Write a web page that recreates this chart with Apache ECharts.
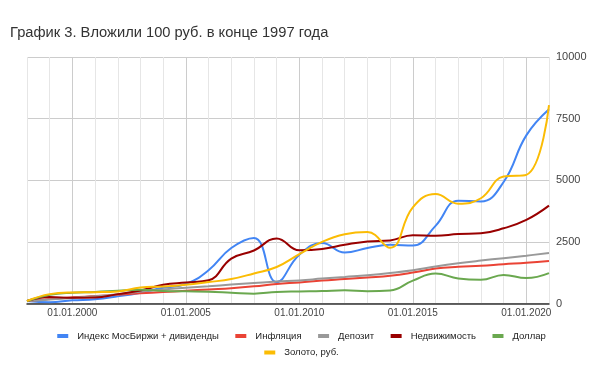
<!DOCTYPE html>
<html><head><meta charset="utf-8">
<script src="https://cdn.jsdelivr.net/npm/echarts@6/dist/echarts.min.js"></script>
<style>html,body{margin:0;padding:0;background:#fff}#c{width:603px;height:372px}</style>
</head><body><div id="c"></div>
<script>
// Data (values at 01.01 of each year)
const years = [1998,1999,2000,2001,2002,2003,2004,2005,2006,2007,2008,2009,2010,2011,2012,2013,2014,2015,2016,2017,2018,2019,2020,2021];
const names = ['Индекс МосБиржи + дивиденды','Инфляция','Депозит','Недвижимость','Доллар','Золото, руб.'];
const moex      = [100,50,130,170,290,440,640,790,1350,2250,2660,870,1980,2450,2070,2250,2380,2350,3150,4170,4140,4930,6820,7880];
const inflation = [100,185,250,300,355,412,465,518,572,622,695,790,855,930,990,1055,1125,1255,1420,1490,1530,1595,1650,1728];
const deposit   = [100,160,225,290,380,490,570,640,700,770,830,890,935,1010,1080,1150,1240,1350,1500,1630,1740,1840,1940,2050];
const realty    = [100,260,230,240,380,530,760,850,940,1820,2150,2640,2160,2210,2380,2520,2560,2770,2750,2820,2850,3050,3390,3970];
const dollar    = [100,350,440,470,520,560,510,495,480,440,400,470,490,505,535,500,530,930,1215,1015,960,1160,1030,1230];
const gold      = [100,380,450,460,490,650,690,760,870,990,1220,1480,2000,2500,2810,2900,2260,3900,4440,4050,4270,5150,5220,8050];
const yTicks = [0,2500,5000,7500,10000];
const colors = ['#4285f4','#ea4335','#999999','#990000','#6aa84f','#fbbc04'];

const values = [moex, inflation, deposit, realty, dollar, gold];
const font = 'Arial, "Liberation Sans", sans-serif';
const chart = echarts.init(document.getElementById('c'), null, {renderer:'canvas'});
const legendBase = {left:'center', padding:0, icon:'rect', itemWidth:11, itemHeight:4, itemGap:16.5,
  textStyle:{fontFamily:font, fontSize:9.5, color:'#222', padding:[0,0,0,4]}};
chart.setOption({
  animation:false,
  backgroundColor:'#fff',
  title:{text:'График 3. Вложили 100 руб. в конце 1997 года', left:10, top:25, padding:0,
    textStyle:{fontFamily:font, fontSize:14.7, fontWeight:'normal', color:'#333'}},
  grid:{left:27, right:54, top:57, bottom:68.5},
  legend:[
    Object.assign({data:names.slice(0,5), top:331}, legendBase),
    Object.assign({data:names.slice(5), top:347.5}, legendBase)
  ],
  xAxis:{type:'value', min:years[0], max:years[years.length-1], interval:1,
    axisLine:{show:true, onZero:false, lineStyle:{color:'#333', width:1.5}},
    axisTick:{show:false},
    axisLabel:{fontFamily:font, fontSize:10, color:'#444', margin:5, showMaxLabel:false,
      formatter:v => (v % 5 === 0 && v < 2021) ? '01.01.' + v : ''},
    splitLine:{show:true, lineStyle:{color:['#e6e6e6','#e6e6e6','#cccccc','#e6e6e6','#e6e6e6'], width:1}}
  },
  yAxis:{type:'value', position:'right', min:yTicks[0], max:yTicks[yTicks.length-1], interval:2500,
    axisLine:{show:false}, axisTick:{show:false},
    axisLabel:{fontFamily:font, fontSize:11, color:'#444', margin:7, formatter:v => String(v)},
    splitLine:{lineStyle:{color:'#cccccc', width:1}}
  },
  series: names.map((n,i)=>({
    name:n, type:'line', smooth:0.45, showSymbol:false, symbol:'none',
    color:colors[i], lineStyle:{width:2, color:colors[i]},
    data: years.map((y,k)=>[y, values[i][k]])
  }))
});
</script></body></html>
